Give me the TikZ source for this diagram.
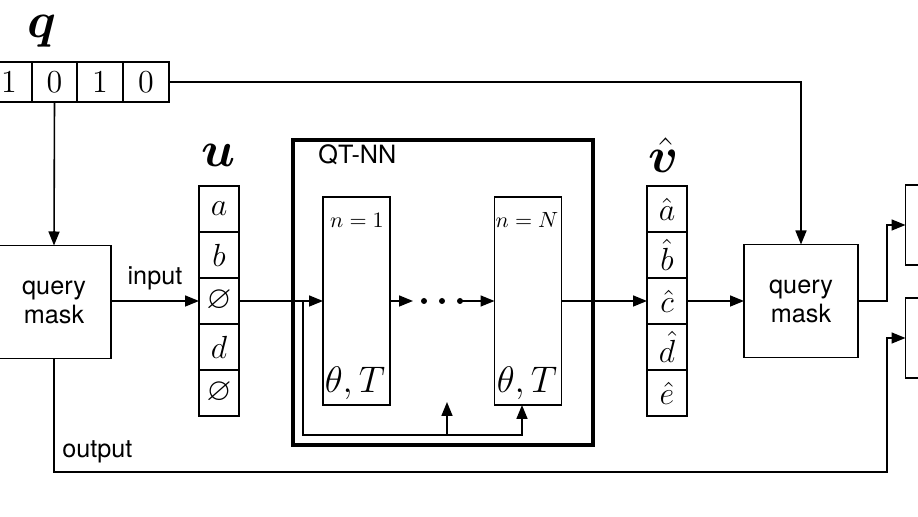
\RequirePackage{fix-cm}
\documentclass[tikz,border=0pt]{standalone}
\usepackage{amsmath}
\usepackage{amssymb}
\usepackage{bm}
\usepackage{fontspec}
\newfontfamily\hv{TeX Gyre Heros}
\usetikzlibrary{arrows.meta,calc}
\begin{document}
\begin{tikzpicture}[x=0.5pt,y=-0.5pt,
  ln/.style={line width=0.8pt},
  arr/.style={line width=0.8pt,-{Triangle[length=7pt,width=5.5pt]}},
  qcell/.style={draw,line width=0.8pt,minimum width=23pt,minimum height=20pt,inner sep=0pt,outer sep=0pt,font=\fontsize{16}{19}\selectfont},
  vcell/.style={draw,line width=0.8pt,minimum width=20pt,minimum height=23pt,inner sep=0pt,outer sep=0pt,font=\fontsize{16}{19}\selectfont},
  maskbox/.style={draw,line width=0.8pt,minimum width=57pt,minimum height=56.5pt,inner sep=0pt,outer sep=0pt,align=center,font=\hv\fontsize{12.6}{14.5}\selectfont},
  layerbox/.style={draw,line width=0.8pt,minimum width=33.5pt,minimum height=104pt,inner sep=0pt,outer sep=0pt},
  outbox/.style={draw,line width=0.8pt,minimum width=23pt,minimum height=40pt,inner sep=0pt,outer sep=0pt},
  lab/.style={font=\hv\fontsize{12.6}{14.5}\selectfont,inner sep=0pt},
  biglab/.style={font=\fontsize{25}{30}\selectfont,inner sep=0pt},
  small/.style={font=\fontsize{11}{13}\selectfont,inner sep=0pt},
  mid/.style={font=\fontsize{18.5}{22}\selectfont,inner sep=0pt},
  ]
\useasboundingbox (0,0) rectangle (918,517);
\clip (0,0) rectangle (918,517);

% q vector
\node[biglab] (qlab) at (42,31) {$\bm{q}$};
\node[qcell] (q1) at (9,82) {$1$};
\node[qcell] (q2) at (54.5,82) {$0$};
\node[qcell] (q3) at (100,82) {$1$};
\node[qcell] (q4) at (146,82) {$0$};

% query masks
\node[maskbox] (qmL) at (54,302) {query\\mask};
\node[maskbox] (qmR) at (801,301) {query\\mask};

% u vector
\node[biglab] (ulab) at (219,155) {$\bm{u}$};
\node[vcell] (u1) at (219,209) {$a$};
\node[vcell] (u2) at (219,255) {$b$};
\node[vcell] (u3) at (219,301) {$\varnothing$};
\node[vcell] (u4) at (219,347) {$d$};
\node[vcell] (u5) at (219,393) {$\varnothing$};

% v hat vector
\node[biglab] (vlab) at (664,155) {$\bm{\hat{v}}$};
\node[vcell] (v1) at (667,209) {$\hat{a}$};
\node[vcell] (v2) at (667,255) {$\hat{b}$};
\node[vcell] (v3) at (667,301) {$\hat{c}$};
\node[vcell] (v4) at (667,347) {$\hat{d}$};
\node[vcell] (v5) at (667,393) {$\hat{e}$};

% QT-NN frame
\draw[line width=2.2pt] (293,140) rectangle (593,445);
\node[lab,anchor=base west] (qtnn) at (318,164) {QT-NN};

\node[layerbox] (b1) at (356.5,301) {};
\node[layerbox] (bN) at (528,301) {};
\node[small] (n1) at (357,220) {$n=1$};
\node[small] (nN) at (527,220) {$n=N$};
\node[mid] (t1) at (355,383) {$\theta,T$};
\node[mid] (tN) at (527,383) {$\theta,T$};

% output boxes (cut at right edge)
\node[outbox] (oA) at (928.5,225) {};
\node[outbox] (oB) at (928.5,338) {};

% coordinates
\coordinate (br) at (303,301);
\coordinate (midtip) at (447,402);
\coordinate (d1) at (424,301);
\coordinate (d2) at (442,301);
\coordinate (d3) at (460,301);
\coordinate (dA) at (413,301);

% connectors
\draw[arr] (q4.east) -| (qmR.north);
\draw[arr] (q2.south) -- (qmL.north);
\draw[arr] (qmL.east |- u3.west) -- node[lab,above=5pt,pos=0.5] {input} (u3.west);
\draw[arr] (u3.east) -- (b1.west);
\draw[arr] (br) |- (447,435) -| ([xshift=-3pt]bN.south);
\draw[arr] (447,435) -- (midtip);
\draw[arr] (b1.east) -- (dA);
\foreach \p in {d1,d2,d3} \fill (\p) circle (1.5pt);
\draw[arr] (d3) -- (bN.west);
\draw[arr] (bN.east) -- (v3.west);
\draw[arr] (v3.east) -- (qmR.west);
\draw[arr] (qmR.east) -- (887,301) |- (oA.west);
\draw[arr] (qmL.south) |- (887,472) |- (oB.west);
\node[lab,anchor=base west] (outlab) at (62,458) {output};
\end{tikzpicture}
\end{document}
